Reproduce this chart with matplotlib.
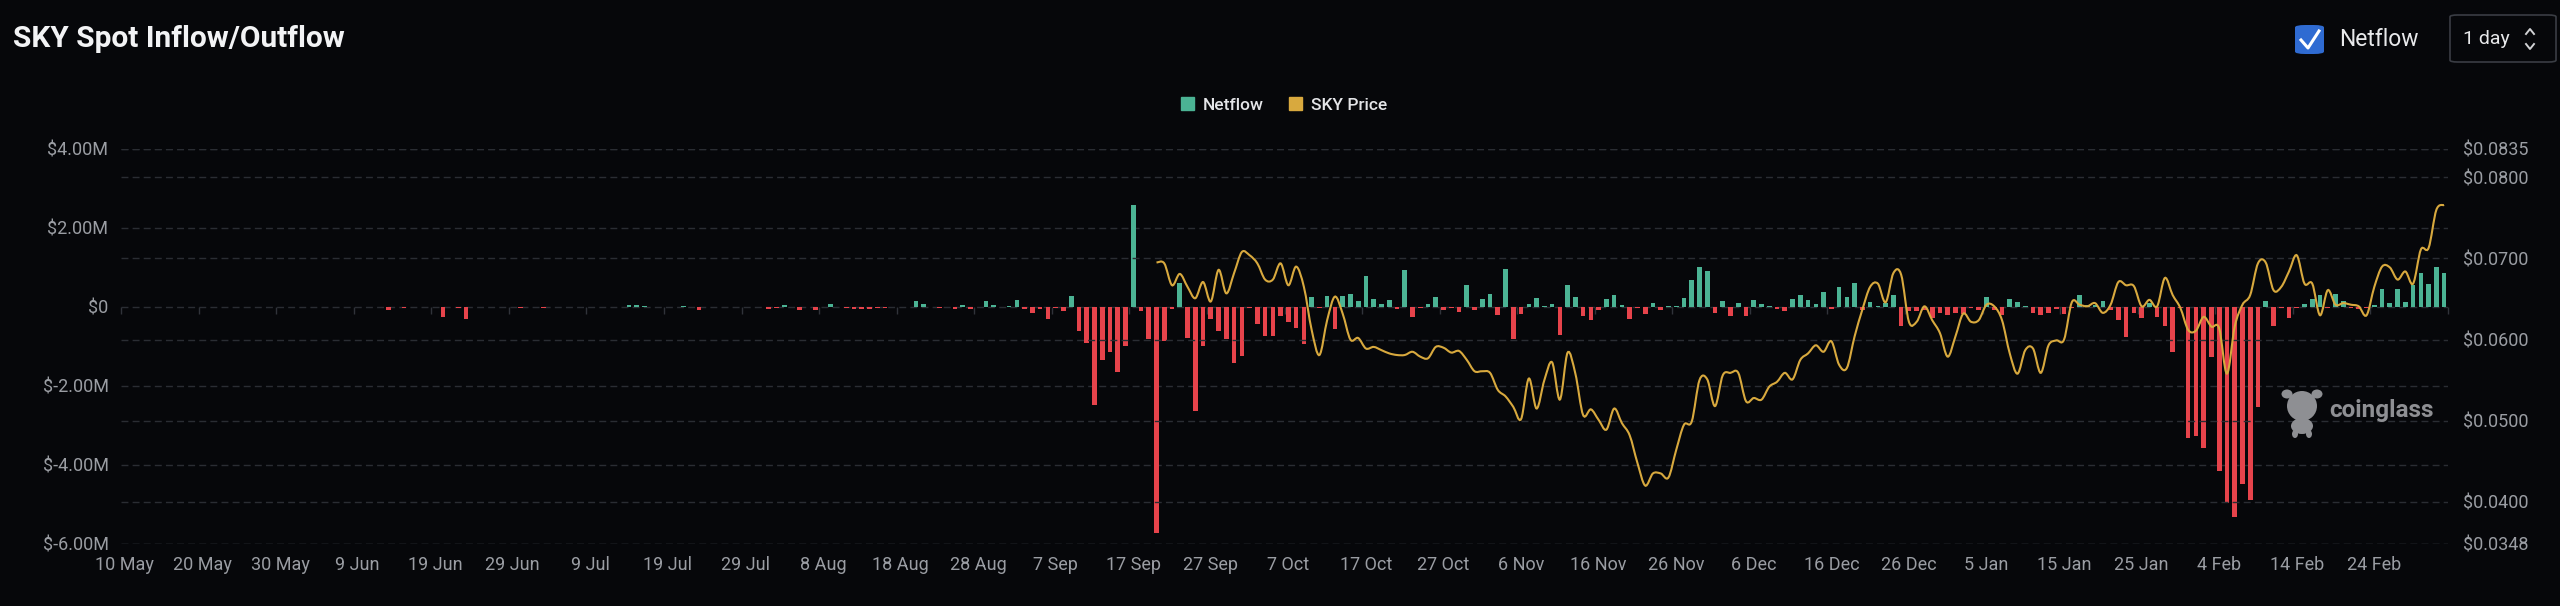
import numpy as np
import pandas as pd
import matplotlib
matplotlib.use("Agg")
import matplotlib.pyplot as plt
from matplotlib.path import Path
from matplotlib.patches import PathPatch, FancyBboxPatch, Patch, Ellipse
from matplotlib.lines import Line2D
from matplotlib.ticker import FuncFormatter, FixedLocator

plt.rcParams['font.family'] = ['Roboto', 'DejaVu Sans']

# daily categories
dates = pd.date_range("2024-05-10", "2025-03-05", freq="D")

# netflow, $M per day
netflow = [
    0, -0.01, 0, 0, 0, 0, 0, 0, 0, 0,
    0, 0, 0, 0, 0, 0, 0, 0, 0, 0,
    0, 0, 0, 0, -0.01, 0, 0, 0, 0, 0,
    0, 0, 0, 0, -0.07, 0, -0.02, 0, -0.01, 0,
    0, -0.25, 0, -0.03, -0.31, 0, 0, 0, 0, 0,
    0, -0.02, 0, 0, -0.02, 0, 0, 0, 0, 0,
    0, 0, 0, 0, 0, 0.04, 0.04, 0.02, 0, 0,
    0, 0, 0.02, 0, -0.07, 0, 0, 0, 0, 0,
    0, 0, 0, -0.05, -0.02, 0.06, 0, -0.07, 0, -0.07,
    0, 0.08, 0, -0.03, -0.05, -0.05, -0.06, -0.02, -0.02, 0,
    0, 0, 0.14, 0.08, -0.01, -0.02, 0, -0.04, 0.06, -0.06,
    0, 0.14, 0.06, 0, 0.03, 0.17, -0.05, -0.15, -0.05, -0.30,
    -0.03, -0.10, 0.27, -0.60, -0.90, -2.47, -1.34, -1.13, -1.65, -0.99,
    2.58, -0.10, -0.82, -5.73, -0.86, -0.05, 0.61, -0.78, -2.64, -1.00,
    -0.30, -0.60, -0.81, -1.43, -1.25, -0.03, -0.43, -0.73, -0.73, -0.23,
    -0.39, -0.52, -0.94, 0.25, -0.03, 0.28, -0.55, 0.28, 0.33, 0.15,
    0.79, 0.19, 0.07, 0.17, -0.04, 0.93, -0.26, -0.03, 0.08, 0.26,
    -0.08, -0.03, -0.13, 0.55, -0.08, 0.19, 0.32, -0.19, 0.97, -0.80,
    -0.17, 0.07, 0.23, 0.03, 0.07, -0.70, 0.55, 0.25, -0.24, -0.32,
    -0.08, 0.19, 0.31, 0.06, -0.30, -0.03, -0.17, 0.11, -0.08, 0.02,
    0.03, 0.24, 0.69, 1.02, 0.91, -0.15, 0.15, -0.24, 0.10, -0.24,
    0.17, 0.08, 0.02, -0.04, -0.10, 0.19, 0.31, 0.17, 0.07, 0.38,
    -0.06, 0.51, 0.26, 0.61, -0.07, 0.12, 0.03, 0.10, 0.30, -0.47,
    -0.10, -0.10, -0.08, -0.28, -0.14, -0.21, -0.15, -0.17, -0.03, -0.08,
    0.25, -0.08, -0.21, 0.19, 0.13, 0.03, -0.14, -0.21, -0.15, -0.04,
    -0.17, -0.03, 0.30, 0.06, 0.06, 0.14, -0.08, -0.34, -0.76, -0.15,
    -0.27, 0.10, -0.25, -0.49, -1.13, -0.03, -3.32, -3.26, -3.58, -1.27,
    -4.15, -4.97, -5.31, -4.47, -4.89, -2.54, 0.15, -0.49, -0.02, -0.27,
    -0.02, 0.07, 0.19, 0.31, -0.03, 0.32, 0.15, -0.03, -0.04, -0.03,
    0.04, 0.45, 0.11, 0.45, 0.13, 0.55, 0.86, 0.59, 1.02, 0.85,
]

# SKY price, starts 2024-09-20
price_start = "2024-09-20"
price = [
    0.0695, 0.0694, 0.0667, 0.0681, 0.0665, 0.0651, 0.0671, 0.0647, 0.0686, 0.0657,
    0.0682, 0.0708, 0.0704, 0.0694, 0.0674, 0.0674, 0.0694, 0.0667, 0.0690, 0.0665,
    0.0612, 0.0581, 0.0624, 0.0653, 0.0632, 0.0600, 0.0602, 0.0589, 0.0591, 0.0587,
    0.0583, 0.0581, 0.0581, 0.0585, 0.0579, 0.0577, 0.0591, 0.0590, 0.0584, 0.0586,
    0.0575, 0.0561, 0.0561, 0.0559, 0.0538, 0.0530, 0.0517, 0.0502, 0.0552, 0.0515,
    0.0550, 0.0572, 0.0526, 0.0584, 0.0558, 0.0507, 0.0514, 0.0501, 0.0489, 0.0515,
    0.0497, 0.0482, 0.0448, 0.0420, 0.0435, 0.0435, 0.0430, 0.0464, 0.0495, 0.0499,
    0.0550, 0.0551, 0.0518, 0.0556, 0.0559, 0.0559, 0.0524, 0.0528, 0.0526, 0.0542,
    0.0548, 0.0559, 0.0551, 0.0575, 0.0583, 0.0593, 0.0585, 0.0598, 0.0569, 0.0565,
    0.0604, 0.0637, 0.0665, 0.0669, 0.0646, 0.0682, 0.0680, 0.0622, 0.0622, 0.0641,
    0.0624, 0.0608, 0.0579, 0.0604, 0.0632, 0.0622, 0.0624, 0.0643, 0.0641, 0.0624,
    0.0583, 0.0558, 0.0587, 0.0589, 0.0559, 0.0593, 0.0599, 0.0600, 0.0646, 0.0643,
    0.0641, 0.0645, 0.0633, 0.0643, 0.0671, 0.0667, 0.0666, 0.0641, 0.0649, 0.0641,
    0.0676, 0.0655, 0.0639, 0.0612, 0.0611, 0.0628, 0.0616, 0.0614, 0.0558, 0.0616,
    0.0643, 0.0655, 0.0694, 0.0695, 0.0661, 0.0665, 0.0684, 0.0704, 0.0669, 0.0669,
    0.0630, 0.0661, 0.0643, 0.0645, 0.0643, 0.0641, 0.0630, 0.0665, 0.0690, 0.0689,
    0.0674, 0.0684, 0.0669, 0.0711, 0.0713, 0.0760, 0.0766,
]

left_ticks = [-6, -4, -2, 0, 2, 4]
right_ticks = [0.0348, 0.04, 0.05, 0.06, 0.07, 0.08, 0.0835]

BG = '#06070a'
GREEN = '#4bb394'
RED = '#e6434b'
GOLD = '#d8a93e'
GRID = '#2a2d33'
TXT = '#9a9da3'

W, H = 2560, 606
fig = plt.figure(figsize=(W / 100, H / 100), dpi=100, facecolor=BG)
ax = fig.add_axes([121 / W, 1 - 544 / H, (2448 - 121) / W, (544 - 149) / H])
ax.set_facecolor(BG)

x = np.arange(len(dates))
vals = np.array(netflow)
colors = [GREEN if v >= 0 else RED for v in vals]
ax.bar(x, vals, width=0.6, color=colors, zorder=3)

ax.set_xlim(-0.5, len(dates) - 0.5)
ax.set_ylim(-6, 4)
ax.yaxis.set_major_locator(FixedLocator(left_ticks))
ax.yaxis.set_major_formatter(FuncFormatter(
    lambda v, p: "$0" if abs(v) < 1e-9 else f"${v:.2f}M"))
ax.grid(axis='y', color=GRID, linestyle=(0, (5, 3)), linewidth=1, zorder=0)

lab_idx = np.arange(0, len(dates), 10)
ax.set_xticks(lab_idx)
ax.set_xticklabels([f"{d.day} {d.strftime('%b')}" for d in dates[lab_idx]])
ax.tick_params(axis='both', length=0, colors=TXT, labelsize=13)
ax.tick_params(axis='x', pad=9)
ax.tick_params(axis='y', pad=9)
for s in ax.spines.values():
    s.set_visible(False)

# small category ticks along the zero line
sec = ax.secondary_xaxis(0, transform=ax.transData)
sec.set_xticks(np.arange(-0.5, len(dates), 10))
sec.tick_params(length=5, color='#30333a', labelbottom=False, width=1)
sec.spines['bottom'].set_visible(False)

# price on the right axis
ax2 = ax.twinx()
ax2.set_ylim(0.0348, 0.0835)
ax2.yaxis.set_major_locator(FixedLocator(right_ticks))
ax2.yaxis.set_major_formatter(FuncFormatter(lambda v, p: f"${v:.4f}"))
ax2.grid(axis='y', color=GRID, linestyle=(0, (5, 3)), linewidth=1)
ax2.tick_params(axis='y', length=0, colors=TXT, labelsize=13, pad=11)
for s in ax2.spines.values():
    s.set_visible(False)

px = np.arange(len(price)) + dates.get_loc(pd.Timestamp(price_start))
py = np.array(price)
# smooth curve through daily points (Catmull-Rom as cubic beziers)
pts = np.column_stack([px, py])
ext = np.vstack([pts[0], pts, pts[-1]])
verts = [tuple(pts[0])]
codes = [Path.MOVETO]
for i in range(len(pts) - 1):
    p0, p1, p2, p3 = ext[i], ext[i + 1], ext[i + 2], ext[i + 3]
    c1 = p1 + (p2 - p0) / 6
    c2 = p2 - (p3 - p1) / 6
    verts += [tuple(c1), tuple(c2), tuple(p2)]
    codes += [Path.CURVE4] * 3
ax2.add_patch(PathPatch(Path(verts, codes), fill=False, edgecolor=GOLD,
                        linewidth=1.5, zorder=5))

# legend
handles = [Patch(color=GREEN, label='Netflow'), Patch(color=GOLD, label='SKY Price')]
fig.legend(handles=handles, loc='center', bbox_to_anchor=(1284 / W, 1 - 105 / H),
           ncol=2, frameon=False, fontsize=12.5, labelcolor='#e4e5e8',
           prop={'weight': 'medium', 'size': 12.5},
           handlelength=0.75, handleheight=0.75, handletextpad=0.5, columnspacing=1.5)

# title
fig.text(13 / W, 1 - 39 / H, "SKY Spot Inflow/Outflow", color='#f2f3f5',
         fontsize=21.5, fontweight='bold', va='center', ha='left')

# top-right controls
fig.add_artist(FancyBboxPatch((2295 / W, 1 - 54 / H), 29 / W, 29 / H,
                              boxstyle="round,pad=0,rounding_size=0.004",
                              transform=fig.transFigure, facecolor='#2f6bd2', edgecolor='none'))
fig.add_artist(Line2D([2301 / W, 2308 / W, 2319 / W], [1 - 40 / H, 1 - 48 / H, 1 - 31 / H],
                      transform=fig.transFigure, color='white', linewidth=2.2))
fig.text(2339 / W, 1 - 39 / H, "Netflow", color='#e8e9eb', fontsize=16.5,
         va='center', ha='left')
fig.add_artist(FancyBboxPatch((2450 / W, 1 - 62 / H), 106 / W, 47 / H,
                              boxstyle="round,pad=0,rounding_size=0.003",
                              transform=fig.transFigure, facecolor='none',
                              edgecolor='#3a3d44', linewidth=1.2))
fig.text(2463 / W, 1 - 39 / H, "1 day", color='#e8e9eb', fontsize=14,
         va='center', ha='left')
fig.add_artist(Line2D([2526 / W, 2530 / W, 2534 / W], [1 - 34 / H, 1 - 29 / H, 1 - 34 / H],
                      transform=fig.transFigure, color='#d0d1d4', linewidth=1.4))
fig.add_artist(Line2D([2526 / W, 2530 / W, 2534 / W], [1 - 44 / H, 1 - 49 / H, 1 - 44 / H],
                      transform=fig.transFigure, color='#d0d1d4', linewidth=1.4))

# watermark
wm = '#8e8f93'
for cx, cy, w, h in [(2302, 406, 30, 30), (2287, 394, 11, 9), (2317, 394, 11, 9),
                     (2302, 426, 22, 16), (2295, 434, 6, 8), (2309, 434, 6, 8)]:
    fig.add_artist(Ellipse((cx / W, 1 - cy / H), w / W, h / H,
                           transform=fig.transFigure, facecolor=wm, edgecolor='none'))
fig.text(2329 / W, 1 - 410 / H, "coinglass", color=wm, fontsize=17.5,
         fontweight='bold', va='center', ha='left')

fig.savefig("out.png", dpi=100, facecolor=BG)
